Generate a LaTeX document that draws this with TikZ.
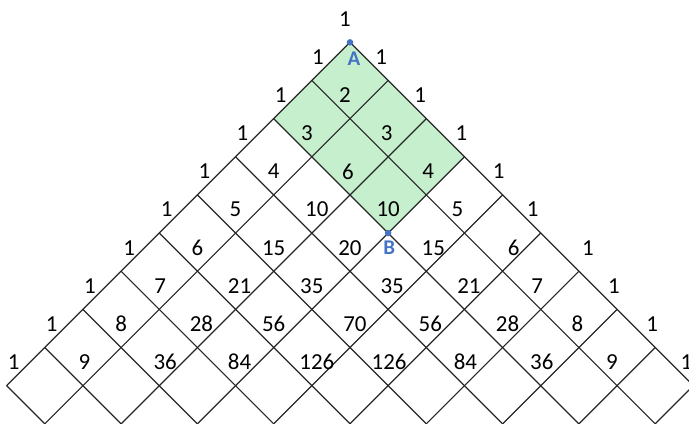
\documentclass[tikz,border=0pt]{standalone}
\usepackage{fontspec}
\setmainfont{Carlito}
\usepackage{tikz}
\usetikzlibrary{positioning}
\definecolor{cellgreen}{HTML}{C6EFCE}
\definecolor{ptblue}{HTML}{4472C4}

\begin{document}
\begin{tikzpicture}[
  x=38.15bp,y=38.15bp,
  grid/.style={line width=1.2bp,black!85},
  num/.style={font=\fontsize{23}{27}\selectfont,inner sep=0pt},
  dot/.style={circle,fill=ptblue,inner sep=0pt,minimum size=6.5bp},
  ptlabel/.style={font=\fontsize{21}{25}\selectfont\bfseries,text=ptblue,inner sep=0pt}]
% frame of the page, apex A sits at the origin
\useasboundingbox (-9.174,1.109) rectangle (8.886,-9.979);
\clip (-9.174,1.109) rectangle (8.886,-9.979);
% shortest paths from A to B
\fill[cellgreen] (0,0) -- (-2,-2) -- (1,-5) -- (3,-3) -- cycle;
% lattice of rotated squares
\foreach \i in {0,...,9}{
  \pgfmathtruncatemacro\len{\i==0 ? 9 : 10-\i}
  \draw[grid] (-\i,-\i) -- ++(\len,-\len);
  \draw[grid] (\i,-\i) -- ++(-\len,-\len);
}
% binomial numbers: row/position/value/xshift
\foreach \r/\k/\v/\dx in {0/0/1/-5,
    1/0/1/6, 1/1/1/-7,
    2/0/1/7, 2/1/2/-5, 2/2/1/-6,
    3/0/1/7, 3/1/3/-5, 3/2/3/-1.5, 3/3/1/-3,
    4/0/1/7, 4/1/4/0, 4/2/6/-2, 4/3/4/2, 4/4/1/-4,
    5/0/1/7.5, 5/1/5/0, 5/2/10/5, 5/3/10/0, 5/4/5/-7, 5/5/1/-8,
    6/0/1/8, 6/1/6/0, 6/2/15/0, 6/3/20/0, 6/4/15/7, 6/5/6/11, 6/6/1/9,
    7/0/1/7, 7/1/7/1, 7/2/21/4, 7/3/35/0, 7/4/35/4, 7/5/21/4.5, 7/6/7/-3.5, 7/7/1/-3,
    8/0/1/7, 8/1/8/0, 8/2/28/4, 8/3/56/0, 8/4/70/5, 8/5/56/4, 8/6/28/5, 8/7/8/-1.5, 8/8/1/-3,
    9/0/1/7, 9/1/9/1.5, 9/2/36/6, 9/3/84/4, 9/4/126/5, 9/5/126/1, 9/6/84/1, 9/7/36/1, 9/8/9/-5, 9/9/1/-7}
  \node[num,xshift=\dx bp,yshift=23.5bp] (n-\r-\k) at (2*\k-\r,-\r) {\v};
% end points
\node[dot] (A) at (0,0) {};
\node[dot] (B) at (1,-5) {};
\node[ptlabel,below=6bp of A,xshift=4bp] (la) {A};
\node[ptlabel,below=4bp of B,xshift=1bp] (lb) {B};
\end{tikzpicture}
\end{document}
